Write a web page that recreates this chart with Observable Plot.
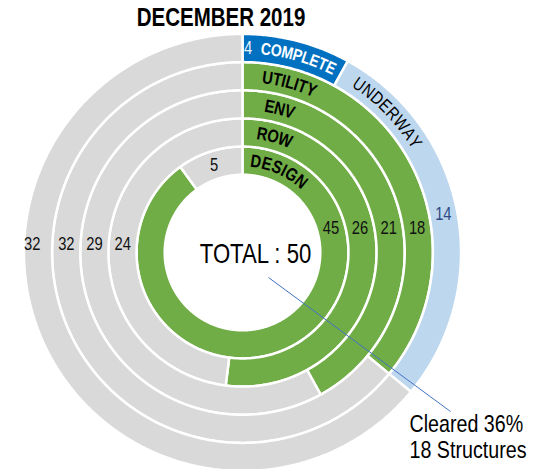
<!DOCTYPE html>
<html><head><meta charset="utf-8">
<script src="https://cdn.jsdelivr.net/npm/d3@7"></script>
<script src="https://cdn.jsdelivr.net/npm/@observablehq/plot@0.6"></script>
<style>
body{margin:0;background:#fff;}
#wrap{position:relative;width:554px;height:469px;overflow:hidden;font-family:"Liberation Sans",Arial,sans-serif;}
#title{position:absolute;left:221px;top:0;transform:translateX(-50%) scaleX(0.82);height:34px;line-height:34px;font-size:25px;font-weight:bold;white-space:nowrap;color:#000;}
#chart{position:absolute;left:0;top:34px;}
</style></head><body>
<div id="wrap"><div id="title"></div><div id="chart"></div></div>
<script>
// ---- data ----
const title = "DECEMBER 2019";
const rings = ["DESIGN", "ROW", "ENV", "UTILITY", "COMPLETE"];   // inner -> outer
const cleared = [45, 26, 21, 18, 4];
const underway = [0, 0, 0, 0, 14];
const remaining = [5, 24, 29, 32, 32];
const totalStructures = 50;
const totalLabel = "TOTAL : 50";
const underwayLabel = "UNDERWAY";
const calloutText = ["Cleared 36%", "18 Structures"];

// ---- layout / style ----
const FONT = '"Liberation Sans",Arial,sans-serif';
const NARROW = 0.82; // horizontal condensing to mimic a narrow face
const W = 554, H = 435, CX = 242, CY = 218;
const R0 = 77.8, STEP = 28.15;
const GREEN = "#70AD47", GRAY = "#D9D9D9", BLUE = "#0070C0", LIGHT = "#BDD7EE";
const inner = k => R0 + k * STEP, mid = k => R0 + (k + 0.5) * STEP, outer = k => R0 + (k + 1) * STEP;
const pol = (r, deg) => { const a = deg * Math.PI / 180; return {x: r * Math.sin(a), y: r * Math.cos(a)}; };

document.getElementById("title").textContent = title;

// segments
const pts = [];
const segInfo = [];
rings.forEach((name, k) => {
  const segs = [
    {v: cleared[k], c: k === 4 ? BLUE : GREEN, kind: "cleared"},
    {v: underway[k], c: LIGHT, kind: "underway"},
    {v: remaining[k], c: GRAY, kind: "remaining"}
  ].filter(s => s.v > 0);
  let a = 0;
  segs.forEach((s, i) => {
    const a0 = a, a1 = a + s.v / totalStructures * 360; a = a1;
    const id = name + "-" + i;
    const n = Math.max(2, Math.ceil((a1 - a0) / 0.5));
    const poly = [];
    for (let j = 0; j <= n; j++) poly.push(pol(outer(k), a0 + (a1 - a0) * j / n));
    for (let j = n; j >= 0; j--) poly.push(pol(inner(k), a0 + (a1 - a0) * j / n));
    poly.push(poly[0]);
    poly.forEach(p => pts.push({...p, id, color: s.c}));
    segInfo.push({k, kind: s.kind, v: s.v, a0, a1});
  });
});

// value labels
const ROW_GREEN = 24.5, ROW_GRAY = 8;
const vlabels = [];
segInfo.forEach(s => {
  const r = mid(s.k);
  if (s.kind === "cleared" && s.k < 4) {
    vlabels.push({x: Math.sqrt(r * r - ROW_GREEN ** 2), y: ROW_GREEN, t: String(s.v), c: "#111"});
  } else if (s.kind === "cleared" && s.k === 4) {
    const p = pol(r, 1.6); vlabels.push({...p, t: String(s.v), c: "#e8f0fa"});
  } else if (s.kind === "underway") {
    const p = pol(r, (s.a0 + s.a1) / 2); vlabels.push({...p, t: String(s.v), c: "#2E4A86"});
  } else if (s.kind === "remaining" && s.k === 0) {
    const p = pol(r, (s.a0 + s.a1) / 2); vlabels.push({...p, t: String(s.v), c: "#111"});
  } else {
    const rr = s.k === 4 ? r + 6 : r;
    vlabels.push({x: -Math.sqrt(rr * rr - ROW_GRAY ** 2), y: ROW_GRAY, t: String(s.v), c: "#111"});
  }
});

// curved category labels
const ctx = document.createElement("canvas").getContext("2d");
const curved = [
  {text: rings[4], k: 4, angle: 16, size: 17, weight: "bold", color: "#fff", sp: 0},
  {text: rings[3], k: 3, angle: 15.5, size: 18, weight: "bold", color: "#000", sp: 0},
  {text: rings[2], k: 2, angle: 14.5, size: 18, weight: "bold", color: "#000", sp: 0},
  {text: rings[1], k: 1, angle: 15.5, size: 18, weight: "bold", color: "#000", sp: 0},
  {text: rings[0], k: 0, angle: 24, size: 18, weight: "bold", color: "#000", sp: 0.8},
  {text: underwayLabel, k: 4, angle: 46, size: 18, weight: "normal", color: "#000", sp: 0.7}
];
const curvedMarks = curved.map(L => {
  ctx.font = `${L.weight} ${L.size}px ${FONT}`;
  const chars = [...L.text];
  const w = chars.map(ch => ctx.measureText(ch).width * NARROW + L.sp);
  const total = d3.sum(w) - L.sp;
  const r = mid(L.k);
  let s = 0;
  const data = chars.map((ch, i) => {
    const center = s + w[i] / 2 - L.sp / 2; s += w[i];
    const ang = L.angle + (center - total / 2) / r * 180 / Math.PI;
    return {...pol(r, ang), ch, rot: ang};
  });
  return Plot.text(data, {x: "x", y: "y", text: "ch", rotate: "rot", fontSize: L.size, fontWeight: L.weight, fill: L.color, lineAnchor: "middle"});
});

const callout = [{x1: 26, y1: -25, x2: 208, y2: -159}];

const chart = Plot.plot({
  width: W, height: H, margin: 0,
  x: {domain: [-CX, W - CX], range: [0, W], axis: null},
  y: {domain: [CY, CY - H], range: [0, H], axis: null},
  color: {type: "identity"},
  style: {fontFamily: FONT, background: "white", overflow: "visible"},
  marks: [
    Plot.line(pts, {x: "x", y: "y", z: "id", fill: "color", stroke: "white", strokeWidth: 2.5, curve: "linear"}),
    ...curvedMarks,
    Plot.text(vlabels, {x: "x", y: "y", text: "t", fill: "c", fontSize: 18}),
    Plot.text([totalLabel], {x: () => 13, y: () => -1.5, text: d => d, fontSize: 27, fill: "#000"}),
    Plot.link(callout, {x1: "x1", y1: "y1", x2: "x2", y2: "y2", stroke: "#4472C4", strokeWidth: 1}),
    Plot.text([calloutText.join("\n")], {x: () => 167, y: () => -161, text: d => d, textAnchor: "start", lineAnchor: "top", lineHeight: 1.08, fontSize: 24, fill: "#000"})
  ]
});
// condense all text horizontally (narrow face look)
chart.querySelectorAll("text").forEach(t => {
  const tr = t.getAttribute("transform");
  if (tr) {
    t.setAttribute("transform", tr + ` scale(${NARROW},1)`);
  } else {
    const x = +(t.getAttribute("x") || 0), y = +(t.getAttribute("y") || 0);
    t.setAttribute("x", 0); t.setAttribute("y", 0);
    t.setAttribute("transform", `translate(${x},${y}) scale(${NARROW},1)`);
  }
});
document.getElementById("chart").appendChild(chart);
</script>
</body></html>
